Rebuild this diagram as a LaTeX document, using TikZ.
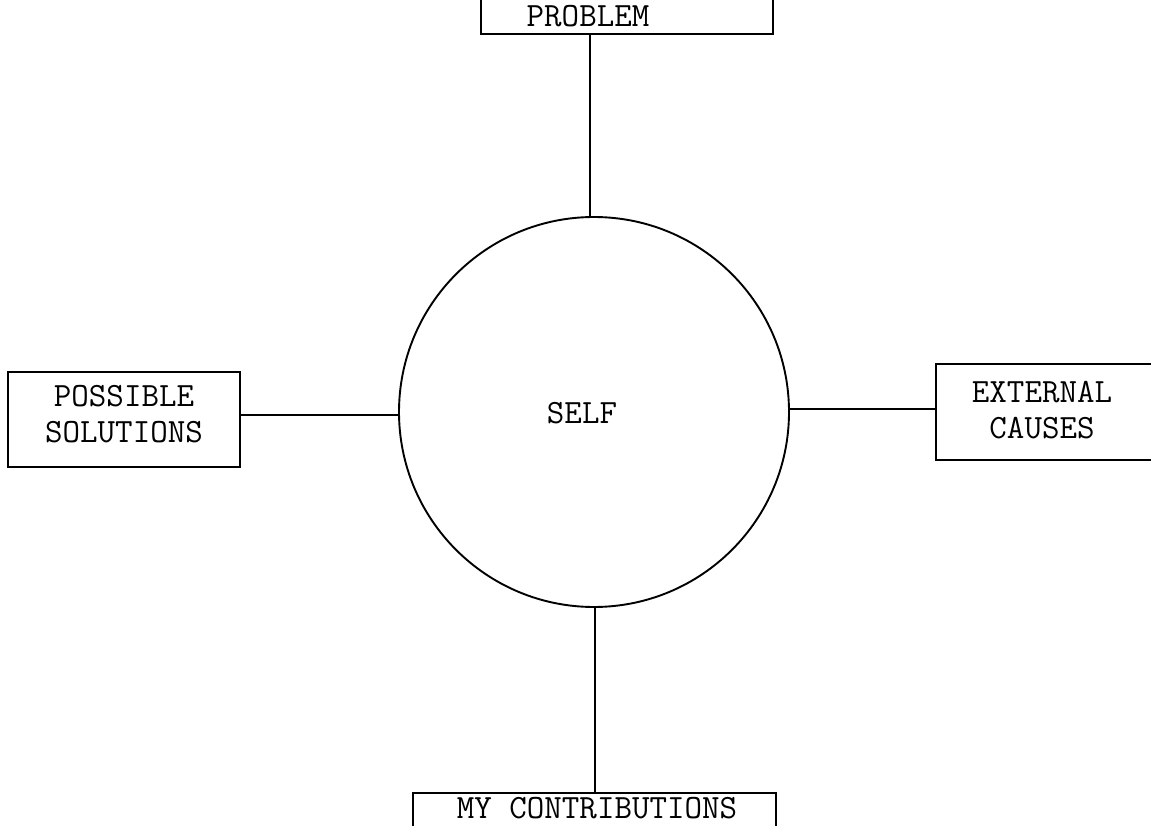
\documentclass[tikz,border=0pt]{standalone}
\begin{document}
\begin{tikzpicture}[x=1pt,y=-1pt,
  lbl/.style={font=\ttfamily\fontsize{34}{36}\selectfont, align=center, inner sep=0pt},
  conn/.style={line width=1.9pt},
  boxline/.style={draw, line width=1.9pt}]
\useasboundingbox (0,0) rectangle (1151,826);
% boxes
\path[boxline] (481,-2) rectangle (773,34);
\path[boxline] (8,372) rectangle (240,467);
\path[boxline] (936,364) rectangle (1160,460);
\path[boxline] (413,793) rectangle (776,830);
\coordinate (pb) at (590,34);
\coordinate (ps) at (240,415);
\coordinate (ec) at (936,409);
\coordinate (mc) at (595,793);
% labels
\node[lbl] (tp) at (588,16) {PROBLEM};
\node[lbl] (tps) at (124,414) {POSSIBLE\\SOLUTIONS};
\node[lbl] (tec) at (1042,410) {EXTERNAL\\CAUSES};
\node[lbl] (tmc) at (597,808) {MY CONTRIBUTIONS};
% circle
\node[draw, circle, line width=1.9pt, minimum size=390pt, inner sep=0pt] (self) at (594,412) {};
\node[lbl] (ts) at (582,413) {SELF};
% connectors
\draw[conn] (pb) -- (self.north -| pb);
\draw[conn] (ps) -- (self.west |- ps);
\draw[conn] (ec) -- (self.east |- ec);
\draw[conn] (mc) -- (self.south -| mc);
\end{tikzpicture}
\end{document}
